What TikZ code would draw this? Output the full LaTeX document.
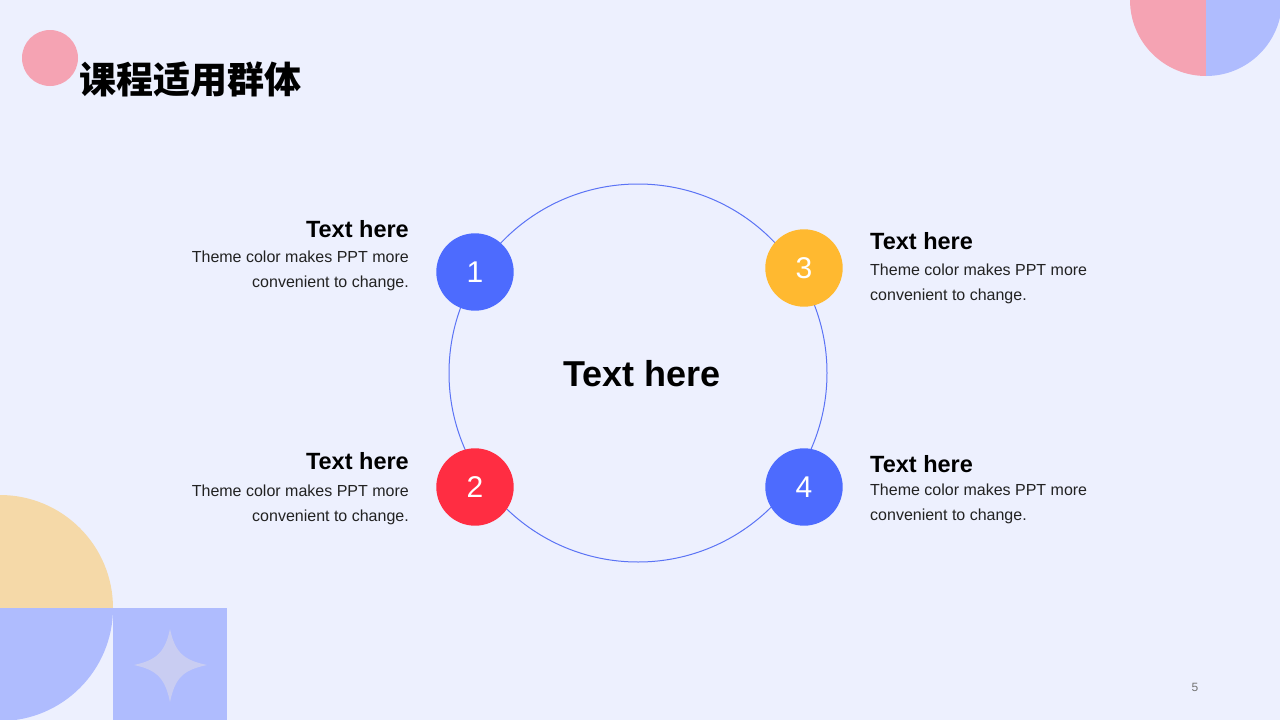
\documentclass[tikz,border=0pt]{standalone}
\usepackage{fontspec}
\setmainfont{Liberation Sans}
\newfontfamily\cjk{Noto Sans CJK SC}
\usetikzlibrary{positioning}

\definecolor{fondo}{HTML}{EDF0FE}
\definecolor{azul}{HTML}{4D6BFE}
\definecolor{rojo}{HTML}{FF2D42}
\definecolor{oro}{HTML}{FFB930}
\definecolor{aro}{HTML}{5B73F5}
\definecolor{azulsuave}{HTML}{AFBCFE}
\definecolor{rosa}{HTML}{F5A3B3}
\definecolor{crema}{HTML}{F5D9A8}
\definecolor{estrella}{HTML}{C9CDF2}
\definecolor{texto}{HTML}{222222}

\tikzset{
  num/.style={circle,minimum size=77.4pt,inner sep=0pt,text=white,font=\fontsize{30}{30}\selectfont},
  titulo/.style={inner sep=0pt,font=\fontsize{23.5}{27}\selectfont\bfseries},
  cuerpo/.style={inner sep=0pt,text=texto,font=\fontsize{16}{24.6}\selectfont}
}

\begin{document}
\begin{tikzpicture}[x=1pt,y=-1pt]
  \useasboundingbox (0,0) rectangle (1280,720);
  \fill[fondo] (0,0) rectangle (1280,720);
  \clip (0,0) rectangle (1280,720);
  % adornos
  \fill[rosa] (50,58) circle (28);
  \begin{scope}
    \clip (0,0) rectangle (1206,720);
    \fill[rosa] (1206,0) circle (76);
  \end{scope}
  \begin{scope}
    \clip (1206,0) rectangle (1280,720);
    \fill[azulsuave] (1206,0) circle (76);
  \end{scope}
  \begin{scope}
    \clip (0,0) rectangle (1280,608);
    \fill[crema] (0,608) circle (113);
  \end{scope}
  \begin{scope}
    \clip (0,608) rectangle (1280,720);
    \fill[azulsuave] (0,608) circle (113);
  \end{scope}
  \fill[azulsuave] (113,608) rectangle (227,720);
  \fill[estrella] (170,629) .. controls (175,652) and (183,660) .. (207,665)
    .. controls (183,670) and (175,678) .. (170,702)
    .. controls (165,678) and (157,670) .. (134,665)
    .. controls (157,660) and (165,652) .. (170,629) -- cycle;
  % titulo
  \node[anchor=west,inner sep=0pt,font=\cjk\bfseries\fontsize{37}{37}\selectfont] (head) at (79,80) {课程适用群体};
  % aro central
  \node[circle,draw=aro,line width=1pt,minimum size=378pt,inner sep=0pt] (ring) at (638,373) {};
  \node[font=\fontsize{36}{36}\selectfont\bfseries] (mid) at (642,374) {Text here};
  % circulos numerados
  \node[num,fill=azul] (n1) at (475,272) {1};
  \node[num,fill=rojo] (n2) at (475,487) {2};
  \node[num,fill=oro]  (n3) at (804,268) {3};
  \node[num,fill=azul] (n4) at (804,487) {4};
  % textos
  \node[titulo,anchor=base east] (h1) at (409,237) {Text here};
  \node[cuerpo,anchor=base east,align=right] (b1) at (409,287) {Theme color makes PPT more\\convenient to change.};
  \node[titulo,anchor=base east] (h2) at (409,469) {Text here};
  \node[cuerpo,anchor=base east,align=right] (b2) at (409,521) {Theme color makes PPT more\\convenient to change.};
  \node[titulo,anchor=base west] (h3) at (870,249) {Text here};
  \node[cuerpo,anchor=base west,align=left] (b3) at (870,300) {Theme color makes PPT more\\convenient to change.};
  \node[titulo,anchor=base west] (h4) at (870,472) {Text here};
  \node[cuerpo,anchor=base west,align=left] (b4) at (870,520) {Theme color makes PPT more\\convenient to change.};
  \node[text=black!55,font=\fontsize{12}{12}\selectfont] (pag) at (1195,687) {5};
\end{tikzpicture}
\end{document}
